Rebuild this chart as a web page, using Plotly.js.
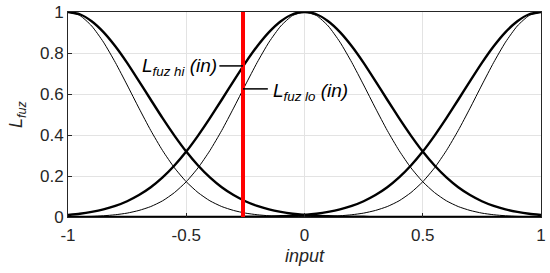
<!DOCTYPE html>
<html>
<head>
<meta charset="utf-8">
<script src="https://cdn.plot.ly/plotly-3.0.1.min.js"></script>
<style>
  html, body { margin: 0; padding: 0; background: #fff; }
  #chart { width: 550px; height: 273px; }
</style>
</head>
<body>
<div id="chart"></div>
<script>
// input values, step 0.05
const xs = [-1, -0.95, -0.9, -0.85, -0.8, -0.75, -0.7, -0.65, -0.6, -0.55, -0.5,
            -0.45, -0.4, -0.35, -0.3, -0.25, -0.2, -0.15, -0.1, -0.05, 0,
            0.05, 0.1, 0.15, 0.2, 0.25, 0.3, 0.35, 0.4, 0.45, 0.5,
            0.55, 0.6, 0.65, 0.7, 0.75, 0.8, 0.85, 0.9, 0.95, 1];

// thick curves (wide)
const hiLeft = [1, 0.989, 0.955, 0.902, 0.833, 0.752, 0.663, 0.572, 0.482, 0.397, 0.319,
                0.251, 0.193, 0.145, 0.107, 0.077, 0.054, 0.037, 0.025, 0.016, 0.010,
                0.006, 0.004, 0.002, 0.001, 0.001, 0, 0, 0, 0, 0,
                0, 0, 0, 0, 0, 0, 0, 0, 0, 0];
const hiMid = [0.010, 0.016, 0.025, 0.037, 0.054, 0.077, 0.107, 0.145, 0.193, 0.251, 0.319,
               0.397, 0.482, 0.572, 0.663, 0.752, 0.833, 0.902, 0.955, 0.989, 1,
               0.989, 0.955, 0.902, 0.833, 0.752, 0.663, 0.572, 0.482, 0.397, 0.319,
               0.251, 0.193, 0.145, 0.107, 0.077, 0.054, 0.037, 0.025, 0.016, 0.010];
const hiRight = [0, 0, 0, 0, 0, 0, 0, 0, 0, 0,
                 0, 0, 0, 0, 0, 0.001, 0.001, 0.002, 0.004, 0.006, 0.010,
                 0.016, 0.025, 0.037, 0.054, 0.077, 0.107, 0.145, 0.193, 0.251, 0.319,
                 0.397, 0.482, 0.572, 0.663, 0.752, 0.833, 0.902, 0.955, 0.989, 1];

// thin curves (narrow)
const loLeft = [1, 0.983, 0.932, 0.853, 0.754, 0.644, 0.531, 0.422, 0.324, 0.240, 0.172,
                0.119, 0.079, 0.051, 0.032, 0.019, 0.011, 0.006, 0.003, 0.002, 0.001,
                0, 0, 0, 0, 0, 0, 0, 0, 0, 0,
                0, 0, 0, 0, 0, 0, 0, 0, 0, 0];
const loMid = [0.001, 0.002, 0.003, 0.006, 0.011, 0.019, 0.032, 0.051, 0.079, 0.119, 0.172,
               0.240, 0.324, 0.422, 0.531, 0.644, 0.754, 0.853, 0.932, 0.983, 1,
               0.983, 0.932, 0.853, 0.754, 0.644, 0.531, 0.422, 0.324, 0.240, 0.172,
               0.119, 0.079, 0.051, 0.032, 0.019, 0.011, 0.006, 0.003, 0.002, 0.001];
const loRight = [0, 0, 0, 0, 0, 0, 0, 0, 0, 0,
                 0, 0, 0, 0, 0, 0, 0, 0, 0, 0, 0.001,
                 0.002, 0.003, 0.006, 0.011, 0.019, 0.032, 0.051, 0.079, 0.119, 0.172,
                 0.240, 0.324, 0.422, 0.531, 0.644, 0.754, 0.853, 0.932, 0.983, 1];

// red marker at the current input
const markX = [-0.26, -0.26];
const markY = [0, 1];

const xTicks = [-1, -0.5, 0, 0.5, 1];
const xTickText = ['-1', '-0.5', '0', '0.5', '1'];
const yTicks = [0, 0.2, 0.4, 0.6, 0.8, 1];
const yTickText = ['0', '0.2', '0.4', '0.6', '0.8', '1'];

const FONT = 'Liberation Sans, Arial, sans-serif';

function curve(y, w){
    return {x: xs, y: y, type: 'scatter', mode: 'lines',
            line: {color: '#000', width: w, shape: 'spline', smoothing: 0.6},
            hoverinfo: 'skip', showlegend: false};
}

const traces = [
    curve(loLeft, 1), curve(loMid, 1), curve(loRight, 1),
    curve(hiLeft, 2.4), curve(hiMid, 2.4), curve(hiRight, 2.4),
    {x: markX, y: markY, type: 'scatter', mode: 'lines',
     line: {color: '#ff0000', width: 4}, showlegend: false, hoverinfo: 'skip'}
];

const layout = {
    width: 550, height: 273,
    margin: {l: 68, r: 9, t: 12, b: 56},
    paper_bgcolor: '#fff', plot_bgcolor: '#fff',
    font: {family: FONT, size: 17, color: '#262626'},
    showlegend: false,
    xaxis: {
        range: [-1, 1], tickvals: xTicks, ticktext: xTickText,
        showgrid: true, gridcolor: '#e3e3e3', gridwidth: 1, zeroline: false,
        showline: true, mirror: true, linecolor: '#262626', linewidth: 1,
        ticks: 'inside', ticklen: 4, tickcolor: '#262626', ticklabelstandoff: 3,
        tickfont: {size: 17, color: '#262626'},
        title: {text: '<i>input</i>', font: {size: 18, color: '#262626'}, standoff: 4}
    },
    yaxis: {
        range: [0, 1], tickvals: yTicks, ticktext: yTickText,
        showgrid: true, gridcolor: '#e3e3e3', gridwidth: 1, zeroline: false,
        showline: true, mirror: true, linecolor: '#262626', linewidth: 1,
        ticks: 'inside', ticklen: 4, tickcolor: '#262626',
        tickfont: {size: 17, color: '#262626'},
        title: {text: '<i>L<sub>fuz</sub></i>', font: {size: 18, color: '#262626'}, standoff: 12}
    },
    shapes: [
        {type: 'line', xref: 'x', yref: 'y', x0: -0.36, x1: -0.26, y0: 0.737, y1: 0.737,
         line: {color: '#000', width: 1.5}},
        {type: 'line', xref: 'x', yref: 'y', x0: -0.26, x1: -0.155, y0: 0.625, y1: 0.625,
         line: {color: '#000', width: 1.5}}
    ],
    annotations: [
        {text: '<i>L<sub>fuz hi</sub> (in)</i>', xref: 'x', yref: 'y', x: -0.362, y: 0.73,
         xanchor: 'right', yanchor: 'middle', showarrow: false,
         font: {family: FONT, size: 19, color: '#000'}},
        {text: '<i>L<sub>fuz lo</sub> (in)</i>', xref: 'x', yref: 'y', x: -0.14, y: 0.61,
         xanchor: 'left', yanchor: 'middle', showarrow: false,
         font: {family: FONT, size: 19, color: '#000'}}
    ]
};

Plotly.newPlot('chart', traces, layout, {staticPlot: true, displayModeBar: false});
</script>
</body>
</html>
